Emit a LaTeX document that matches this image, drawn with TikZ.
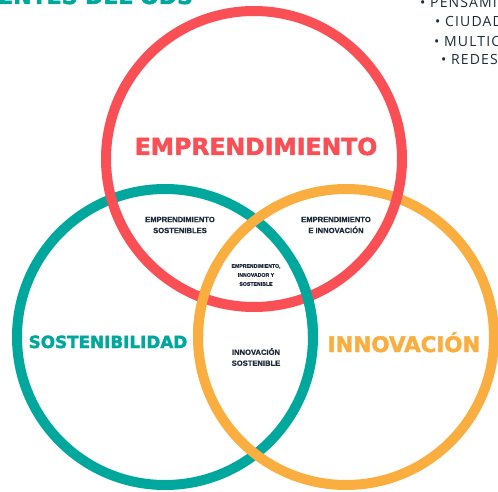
\documentclass[tikz,border=0pt]{standalone}
\usepackage{fontspec}
\setmainfont{Liberation Sans}[BoldFeatures={FakeBold=0.8}]
\newfontfamily\headfont{DejaVu Sans}[BoldFeatures={FakeBold=2}]
\newfontfamily\listfont[LetterSpace=8]{Open Sans}
\usepackage{tikz}
\usetikzlibrary{positioning}
\definecolor{empred}{HTML}{FA4F55}
\definecolor{sosteal}{HTML}{00A79D}
\definecolor{innorange}{HTML}{FBAE40}
\definecolor{navy}{HTML}{1D2B3A}
\tikzstyle{ring}=[circle,draw,line width=10pt,minimum size=296pt,inner sep=0pt]
\tikzstyle{weave}=[line width=10pt]
\tikzstyle{bigword}=[inner sep=0pt,anchor=base]
\tikzstyle{smallword}=[text=navy,align=center,inner sep=0pt,font=\bfseries\fontsize{7.6}{11}\selectfont]
\tikzstyle{listitem}=[inner sep=0pt,anchor=base west,text=navy,font=\listfont\fontsize{14}{16}\selectfont]

\begin{document}
\begin{tikzpicture}[x=1pt,y=1pt]
    \useasboundingbox (0,0) rectangle (498,491);

    % the three rings
    \foreach \pos/\name/\col in {{(165,154)/sos/sosteal}, {(346,154)/inn/innorange}, {(254,332)/emp/empred}}
        \node[ring,draw=\col] (\name) at \pos {};
    % lower crossings go over the red ring
    \draw[weave,innorange] (inn.center) ++(150:148) arc (150:180:148);
    \draw[weave,sosteal] (sos.center) ++(0:148) arc (0:30:148);

    % ring names
    \node[bigword,text=empred,font=\headfont\bfseries\fontsize{23.5}{28}\selectfont] (empname) at (256,336) {EMPRENDIMIENTO};
    \node[bigword,text=sosteal,font=\headfont\bfseries\fontsize{16.8}{20}\selectfont] (sosname) at (108,143) {SOSTENIBILIDAD};
    \node[bigword,text=innorange,font=\headfont\bfseries\fontsize{21.4}{26}\selectfont] (innname) at (404,139) {INNOVACIÓN};

    % overlaps
    \node[smallword] (empsos) at (180,266) {EMPRENDIMIENTO\\SOSTENIBLES};
    \node[smallword] (empinn) at (336,266) {EMPRENDIMIENTO\\E INNOVACIÓN};
    \node[smallword,font=\bfseries\fontsize{5.2}{9}\selectfont] (all) at (256,216) {EMPRENDIMIENTO,\\INNOVADOR Y\\SOSTENIBLE};
    \node[smallword] (innsos) at (256,134) {INNOVACIÓN\\SOSTENIBLE};

    % cut off title and list
    \node[inner sep=0pt,anchor=base west,text=sosteal,font=\headfont\bfseries\fontsize{22}{26}\selectfont] (title) at (-2,487) {ENTES DEL ODS};
    \foreach \pos/\name/\word in {{(420,483)/l1/PENSAMI}, {(435,464)/l2/CIUDAD}, {(434,444)/l3/MULTIC}, {(441,426)/l4/REDES}}
        \node[listitem] (\name) at \pos {• \word};
\end{tikzpicture}
\end{document}
